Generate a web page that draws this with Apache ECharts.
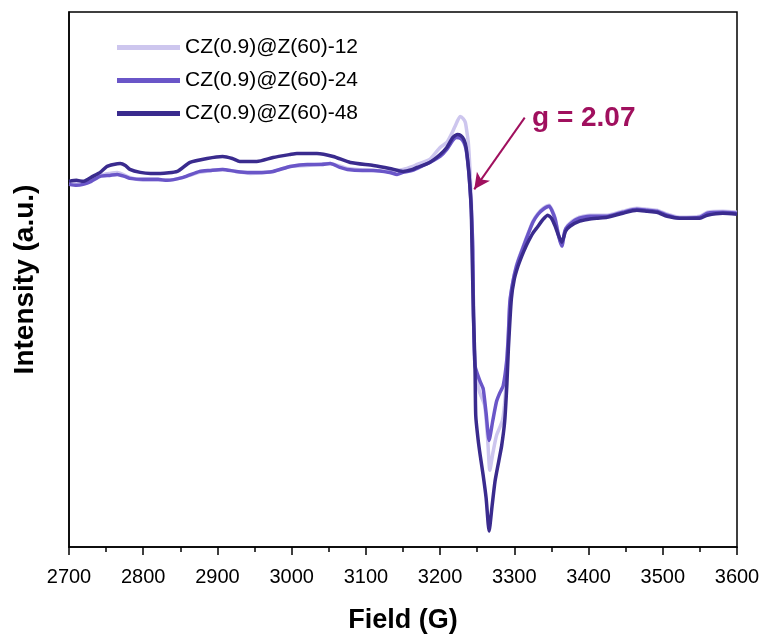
<!DOCTYPE html>
<html>
<head>
<meta charset="utf-8">
<script src="https://cdn.jsdelivr.net/npm/echarts@6/dist/echarts.min.js"></script>
<style>
  html,body{margin:0;padding:0;background:#fff;}
  #chart{width:767px;height:639px;}
</style>
</head>
<body>
<div id="chart"></div>
<script>
/* ---------- data (field in G, intensity in a.u.) ---------- */
const names = ['CZ(0.9)@Z(60)-12','CZ(0.9)@Z(60)-24','CZ(0.9)@Z(60)-48'];
const colors = ['#cdc6ee','#6a56c8','#3a2b8e'];

const field12 = [2700,2719,2742,2755,2765,2782,2800,2832,2854,2876,2907,2944,2975,2998,3021,3052,3075,3110,3132,3150,3163,3169,3186,3200,3209,3215,3220,3227,3231,3234,3236,3238,3240,3242,3244,3245,3247,3253,3260,3264,3267,3271,3276,3284,3288,3290,3292,3294,3298,3303,3307,3311,3317,3325,3332,3339,3347,3351,3355,3360,3364,3368,3372,3384,3402,3425,3446,3465,3479,3492,3506,3523,3550,3560,3581,3600];
const int12   = [365,365,373,375,376,371,368,368,371,376,379,375,377,382,383,385,380,378,377,379,382,384,389,401,406,414,422,432,430,426,417,406,382,349,299,232,182,156,142,109,77,94,112,127,154,189,214,246,266,283,292,300,312,327,335,340,343,338,330,312,303,317,323,330,333,333,337,340,339,338,334,331,332,336,337,336];

const field24 = [2700,2710,2719,2730,2742,2755,2765,2775,2782,2800,2820,2832,2854,2876,2890,2907,2925,2944,2953,2975,2998,3021,3040,3052,3065,3075,3095,3110,3132,3142,3150,3163,3169,3186,3200,3209,3217,3222,3228,3232,3235,3238,3240,3242,3244,3245,3247,3251,3254,3258,3262,3266,3271,3276,3280,3285,3290,3292,3294,3298,3303,3307,3311,3317,3325,3332,3339,3347,3351,3355,3360,3364,3368,3372,3384,3402,3425,3446,3465,3479,3492,3506,3523,3550,3560,3581,3600];
const int24   = [364,363,364,367,372,373,374,372,370,369,369,368,371,377,378,379,377,376,376,377,382,384,384,385,381,379,378,378,376,374,376,378,380,386,392,399,408,411,410,406,399,381,363,339,299,232,182,172,166,159,134,107,127,146,154,162,189,214,246,266,282,291,299,311,326,334,339,342,337,329,311,302,317,322,329,332,332,336,339,338,337,333,330,331,335,336,335];

const field48 = [2700,2710,2719,2732,2742,2751,2760,2769,2776,2782,2796,2810,2823,2846,2863,2886,2907,2920,2930,2944,2953,2975,2998,3007,3021,3034,3056,3079,3110,3132,3150,3163,3169,3186,3200,3209,3217,3223,3228,3232,3235,3238,3240,3242,3243,3245,3247,3248,3251,3254,3258,3262,3266,3270,3274,3279,3283,3287,3290,3292,3296,3300,3305,3310,3314,3317,3325,3331,3339,3345,3350,3355,3360,3364,3369,3375,3388,3400,3411,3425,3446,3465,3479,3492,3506,3523,3550,3560,3581,3600];
const int48   = [367,368,367,372,376,382,384,385,383,379,376,375,375,377,386,390,392,390,387,387,387,391,394,395,395,395,392,386,383,380,377,379,381,386,394,401,411,414,413,409,401,382,364,339,299,232,182,132,109,92,72,49,16,41,66,86,102,126,164,199,249,269,282,292,299,304,315,321,329,333,330,322,312,306,317,322,327,329,330,331,335,338,337,336,332,330,330,333,335,334];

const xTicks = [2700,2800,2900,3000,3100,3200,3300,3400,3500,3600];
const arrowFrom = [3314,431];
const arrowTo   = [3246,359];
const gLabel = 'g = 2.07';

/* ---------- chart ---------- */
const FONT = '"Liberation Sans", Arial, sans-serif';
const chart = echarts.init(document.getElementById('chart'));

function pair(xs,ys){ return xs.map((x,i)=>[x,ys[i]]); }
const seriesData = [pair(field12,int12), pair(field24,int24), pair(field48,int48)];

const series = seriesData.map((d,i)=>({
  name:names[i],
  type:'line',
  data:d,
  symbol:'none',
  smooth:0.2,
  lineStyle:{color:colors[i],width:3.5},
  itemStyle:{color:colors[i]},
  z:2+i
}));
// arrow pointing to the g-value position
series[2].markLine = {
  silent:true,
  symbol:['none','arrow'],
  symbolSize:[12,16],
  label:{show:false},
  lineStyle:{color:'#a0105e',width:2,type:'solid'},
  data:[[{coord:arrowFrom},{coord:arrowTo}]]
};

chart.setOption({
  animation:false,
  grid:{left:69,right:30,top:12,bottom:90,show:true,borderColor:'#000',borderWidth:1.5},
  legend:{
    orient:'vertical',left:112,top:32,
    icon:'rect',itemWidth:63,itemHeight:5,itemGap:12,
    textStyle:{fontFamily:FONT,fontSize:21,color:'#000'},
    data:names
  },
  xAxis:{
    type:'value',min:2700,max:3600,interval:100,
    name:'Field (G)',nameLocation:'middle',nameGap:60,
    nameTextStyle:{fontFamily:FONT,fontSize:27,fontWeight:'bold',color:'#000'},
    axisLine:{lineStyle:{color:'#000',width:1.5}},
    axisTick:{show:true,length:8,lineStyle:{color:'#000',width:1.5}},
    minorTick:{show:true,splitNumber:2,length:5,lineStyle:{color:'#000',width:1.5}},
    axisLabel:{fontFamily:FONT,fontSize:20,color:'#000',margin:20,
      formatter:v=>xTicks.indexOf(v)>=0?String(v):''},
    splitLine:{show:false}
  },
  yAxis:{
    type:'value',min:0,max:537,
    name:'Intensity (a.u.)',nameLocation:'middle',nameGap:30,
    nameTextStyle:{fontFamily:FONT,fontSize:28,fontWeight:'bold',color:'#000'},
    axisLine:{show:true,lineStyle:{color:'#000',width:1.5}},
    axisTick:{show:false},axisLabel:{show:false},splitLine:{show:false}
  },
  graphic:[{
    type:'text',left:532,top:104,
    style:{text:gLabel,fontFamily:FONT,fontSize:28,fontWeight:'bold',fill:'#a0105e'}
  }],
  series:series
});
</script>
</body>
</html>
